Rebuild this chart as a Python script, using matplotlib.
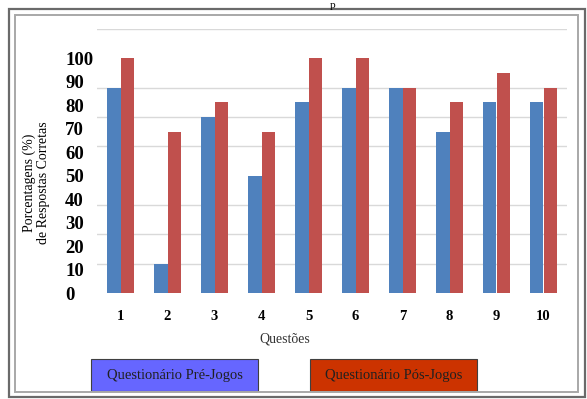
import numpy as np
import matplotlib
matplotlib.use("Agg")
import matplotlib.pyplot as plt
from matplotlib.patches import Rectangle

# dados
questoes = ["1", "2", "3", "4", "5", "6", "7", "8", "9", "10"]
pre_jogos = [87.5, 12.5, 75, 50, 81.25, 87.5, 87.5, 68.75, 81.25, 81.25]
pos_jogos = [100, 68.75, 81.25, 68.75, 100, 100, 87.5, 81.25, 93.75, 87.5]
ytick_labels = [0, 10, 20, 30, 40, 50, 60, 70, 80, 90, 100]
grid_steps = np.arange(0, 112.5 + 0.1, 12.5)

plt.rcParams['font.family'] = ['Liberation Serif', 'DejaVu Serif']

fig = plt.figure(figsize=(5.87, 3.99), dpi=100)
ax = fig.add_axes([97/587, 106/399, 470/587, 264/399])

x = np.arange(1, len(questoes) + 1)
w = 0.28
ax.bar(x - w/2, pre_jogos, w, color='#4F81BD', zorder=3)
ax.bar(x + w/2, pos_jogos, w, color='#C0504D', zorder=3)

ax.set_xlim(0.5, 10.5)
ax.set_ylim(0, 112.5)

# gridlines every 12.5, labels every 10 (as in the original figure)
ax.set_yticks(grid_steps, minor=True)
ax.set_yticks(ytick_labels)
ax.set_yticklabels([str(v) for v in ytick_labels], fontsize=13.5, fontweight='bold')
ax.tick_params(axis='y', which='major', length=0, pad=23)
ax.tick_params(axis='y', which='minor', length=0)
for lab in ax.get_yticklabels():
    lab.set_horizontalalignment('left')
ax.grid(axis='y', which='minor', color='#D9D9D9', linewidth=1.0, zorder=0)

ax.set_xticks(x)
ax.set_xticklabels(questoes, fontsize=10.5, fontweight='bold')
ax.tick_params(axis='x', length=0, pad=12)

for s in ax.spines.values():
    s.set_visible(False)

fig.text(36/587, 1 - 183/399, 'Porcentagens (%)\nde Respostas Corretas',
         rotation=90, ha='center', va='center', fontsize=10,
         multialignment='center', linespacing=1.1)
fig.text(285/587, 1 - 339/399, 'Questões', ha='center', va='center',
         fontsize=10, color='#333333')

# caixas da legenda
def caixa(x0, x1, cor, texto):
    y0, y1 = 359, 391
    fig.patches.append(Rectangle((x0/587, 1 - y1/399), (x1 - x0)/587, (y1 - y0)/399,
                                 transform=fig.transFigure, facecolor=cor,
                                 edgecolor='#404040', linewidth=0.8))
    fig.text((x0 + x1)/2/587, 1 - (y0 + y1)/2/399, texto, ha='center', va='center',
             fontsize=10.5, color='#202020')

caixa(91, 258, '#6666FF', 'Questionário Pré-Jogos')
caixa(310, 477, '#CC3300', 'Questionário Pós-Jogos')

# moldura dupla
fig.patches.append(Rectangle((9/587, 1 - 397/399), 576/587, 388/399,
                             transform=fig.transFigure, fill=False,
                             edgecolor='#6A6A6A', linewidth=1.6))
fig.patches.append(Rectangle((15/587, 1 - 392/399), 563/587, 377/399,
                             transform=fig.transFigure, fill=False,
                             edgecolor='#A8A8A8', linewidth=1.4))

fig.text(333/587, 0.998, 'p', ha='center', va='top', fontsize=8)

plt.savefig('out.png', dpi=100)
